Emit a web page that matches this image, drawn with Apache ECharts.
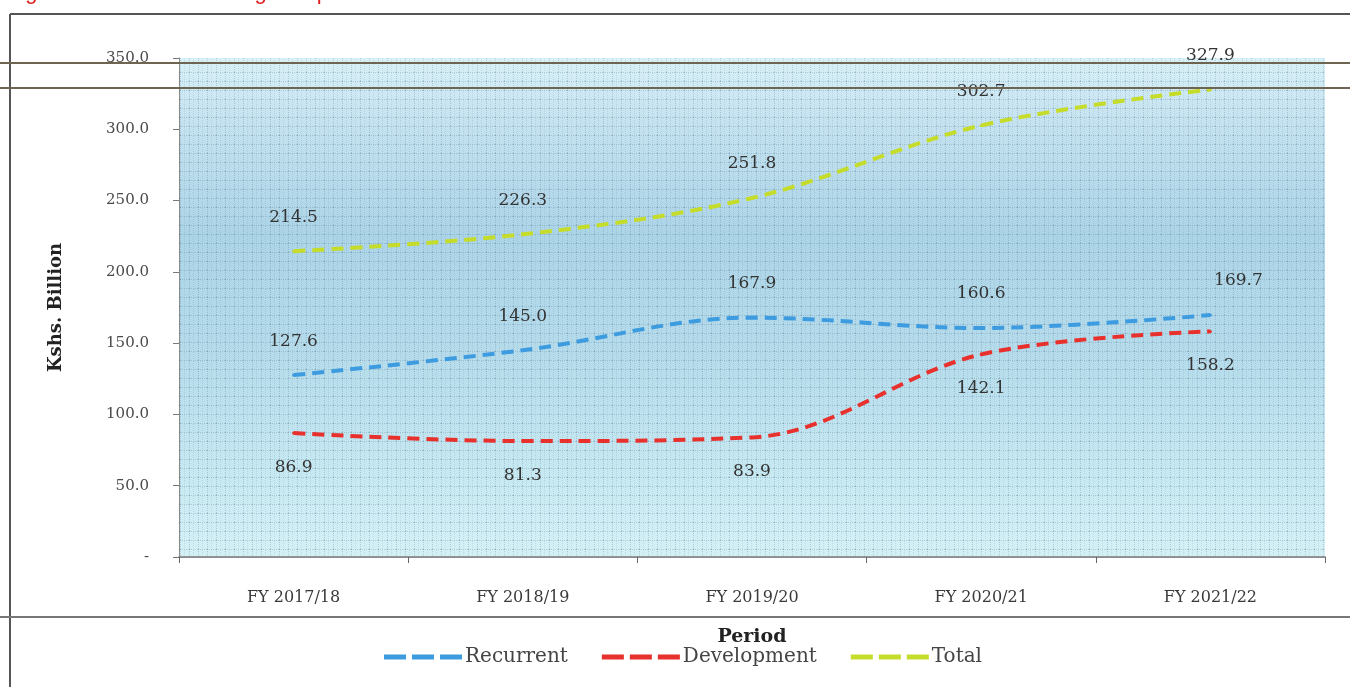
<!DOCTYPE html>
<html>
<head>
<meta charset="utf-8">
<script src="https://cdn.jsdelivr.net/npm/echarts@6/dist/echarts.min.js"></script>
<style>
html,body{margin:0;padding:0;background:#fff;}
#chart{width:1350px;height:687px;}
</style>
</head>
<body>
<div id="chart"></div>
<script>
const categories = ['FY 2017/18', 'FY 2018/19', 'FY 2019/20', 'FY 2020/21', 'FY 2021/22'];
const recurrent = [127.6, 145.0, 167.9, 160.6, 169.7];
const development = [86.9, 81.3, 83.9, 142.1, 158.2];
const total = [214.5, 226.3, 251.8, 302.7, 327.9];
const seriesNames = ['Recurrent', 'Development', 'Total'];
const titleText = 'Figure 4.1: Trends in Budget Expenditure';

const serif = '"DejaVu Serif", "Liberation Serif", serif';
const chart = echarts.init(document.getElementById('chart'));

// texture tile for the plot background (scan-like dotted grid)
const tile = document.createElement('canvas');
tile.width = 9; tile.height = 9;
(function () {
  const c = tile.getContext('2d');
  c.fillStyle = 'rgba(255,255,255,0.15)';
  c.fillRect(0, 0, 9, 9);
  c.fillStyle = 'rgba(60,100,130,0.25)';
  for (let i = 0; i < 9; i += 2) { c.fillRect(0, i, 1, 1); c.fillRect(i, 0, 1, 1); }
  c.fillStyle = 'rgba(60,100,130,0.13)';
  for (let i = 1; i < 9; i += 2) { c.fillRect(4, i, 1, 1); }
})();

function labelCfg(pos) {
  return {
    show: true, position: pos, distance: 24,
    fontFamily: serif, fontSize: 17, color: '#333',
    formatter: p => p.value.toFixed(1)
  };
}
function lineSeries(name, data, color, labelPos) {
  return {
    name: name, type: 'line', data: data, smooth: 0.35,
    symbol: 'circle', symbolSize: 3, showSymbol: true, color: color,
    itemStyle: { color: color },
    lineStyle: { width: 4, type: [12, 7], color: color },
    label: labelCfg(labelPos),
    z: 5
  };
}

const dashIcon = 'path://M0,0h22v5h-22z M28,0h22v5h-22z M56,0h22v5h-22z';

const option = {
  animation: false,
  backgroundColor: '#ffffff',
  title: {
    text: titleText, left: 2, top: -23,
    textStyle: { color: '#e02020', fontFamily: '"Liberation Sans", Arial, sans-serif', fontSize: 22, fontWeight: 'normal' }
  },
  grid: {
    left: 179, right: 25, top: 58, bottom: 130,
    show: true, borderWidth: 0,
    backgroundColor: {
      type: 'linear', x: 0, y: 0, x2: 0, y2: 1,
      colorStops: [
        { offset: 0, color: '#d2eef6' },
        { offset: 0.12, color: '#bcdeed' },
        { offset: 0.35, color: '#9ecde3' },
        { offset: 0.6, color: '#a9d6e8' },
        { offset: 0.85, color: '#bfe6f0' },
        { offset: 1, color: '#cdeef4' }
      ]
    }
  },
  legend: {
    data: seriesNames,
    left: 379, top: 642,
    icon: dashIcon,
    itemWidth: 78, itemHeight: 5, itemGap: 34,
    textStyle: { fontFamily: serif, fontSize: 20, color: '#444', padding: [0, 0, 0, -2] }
  },
  xAxis: {
    type: 'category', data: categories, boundaryGap: true,
    name: 'Period', nameLocation: 'middle', nameGap: 71,
    nameTextStyle: { fontFamily: serif, fontSize: 19, fontWeight: 'bold', color: '#222' },
    axisLine: { lineStyle: { color: '#666', width: 1.5 } },
    axisTick: { show: true, length: 6, lineStyle: { color: '#666' } },
    axisLabel: { margin: 33, fontFamily: serif, fontSize: 16, color: '#3a3a3a' },
    splitLine: { show: false }
  },
  yAxis: {
    type: 'value', min: 0, max: 350, interval: 50,
    name: 'Kshs. Billion', nameLocation: 'middle', nameGap: 114, nameRotate: 90,
    nameTextStyle: { fontFamily: serif, fontSize: 18, fontWeight: 'bold', color: '#222' },
    axisLine: { show: true, lineStyle: { color: '#777', width: 1 } },
    axisTick: { show: true, length: 6, lineStyle: { color: '#777' } },
    axisLabel: {
      margin: 30, fontFamily: serif, fontSize: 15, color: '#4a4a4a',
      formatter: v => v === 0 ? '-' : v.toFixed(1)
    },
    splitLine: { show: false }
  },
  series: [
    Object.assign(lineSeries(seriesNames[0], recurrent, '#3d9be0', 'top'), {
      labelLayout: p => p.dataIndex === 4 ? { dx: 28 } : {}
    }),
    lineSeries(seriesNames[1], development, '#e8302c', 'bottom'),
    lineSeries(seriesNames[2], total, '#c5dc2a', 'top')
  ]
};
chart.setOption(option);

// decorative overlay: texture over the plot area, page frame and scan lines
const rect = chart.getModel().getComponent('grid', 0).coordinateSystem.getRect();
chart.setOption({
  graphic: [
    { type: 'rect', shape: { x: rect.x, y: rect.y, width: rect.width, height: rect.height },
      style: { fill: { image: tile, repeat: 'repeat' } }, z: 1, silent: true },
    { type: 'line', shape: { x1: 10, y1: 14, x2: 1350, y2: 14 }, style: { stroke: '#555', lineWidth: 2 }, z: 0 },
    { type: 'line', shape: { x1: 10, y1: 14, x2: 10, y2: 687 }, style: { stroke: '#555', lineWidth: 2 }, z: 0 },
    { type: 'line', shape: { x1: 0, y1: 617, x2: 1350, y2: 617 }, style: { stroke: '#777', lineWidth: 2 }, z: 0 },
    { type: 'line', shape: { x1: 0, y1: 63, x2: 1350, y2: 63 }, style: { stroke: '#6e6452', lineWidth: 2 }, z: 100 },
    { type: 'line', shape: { x1: 0, y1: 88, x2: 1350, y2: 88 }, style: { stroke: '#6e6452', lineWidth: 2 }, z: 100 }
  ]
});
</script>
</body>
</html>
